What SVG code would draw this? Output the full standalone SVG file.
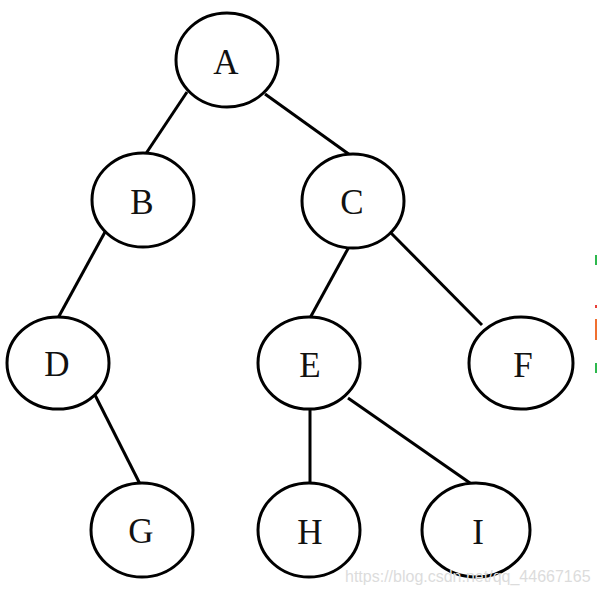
<svg xmlns="http://www.w3.org/2000/svg" width="597" height="594" viewBox="0 0 597 594">
<style>
.n ellipse{fill:#fff;stroke:#000;stroke-width:3}
.n text{font-family:"Liberation Serif","Times New Roman",serif;font-size:35px;fill:#111;text-anchor:middle}
#edges line{stroke:#000;stroke-width:3}
.wm{font-family:"Liberation Sans",Arial,sans-serif;font-size:16px;fill:#dcdcdc}
</style>
<rect width="597" height="594" fill="#fff"/>
<g id="edges">
<line x1="187" y1="92" x2="145" y2="155"/>
<line x1="265" y1="94" x2="350" y2="155"/>
<line x1="105" y1="232" x2="58" y2="318"/>
<line x1="350" y1="245" x2="310" y2="318"/>
<line x1="390" y1="232" x2="482" y2="325"/>
<line x1="95" y1="395" x2="140" y2="484"/>
<line x1="310" y1="410" x2="310" y2="483"/>
<line x1="348" y1="398" x2="470" y2="483"/>
</g>
<g id="A" class="n"><ellipse cx="227" cy="60" rx="51" ry="47"/><text x="226" y="74">A</text></g>
<g id="B" class="n"><ellipse cx="143" cy="200" rx="51" ry="47"/><text x="142" y="214">B</text></g>
<g id="C" class="n"><ellipse cx="353" cy="201" rx="51" ry="47"/><text x="352" y="214">C</text></g>
<g id="D" class="n"><ellipse cx="58" cy="363" rx="51" ry="46"/><text x="57" y="376">D</text></g>
<g id="E" class="n"><ellipse cx="309" cy="363" rx="51" ry="46"/><text x="310" y="377">E</text></g>
<g id="F" class="n"><ellipse cx="521" cy="363" rx="52" ry="46"/><text x="523" y="377">F</text></g>
<g id="G" class="n"><ellipse cx="142" cy="530" rx="51" ry="47"/><text x="141" y="543">G</text></g>
<g id="H" class="n"><ellipse cx="309" cy="530" rx="51" ry="47"/><text x="310" y="544">H</text></g>
<g id="I" class="n"><ellipse cx="476" cy="530" rx="54" ry="47"/><text x="478" y="544">I</text></g>
<text class="wm" x="345" y="582">https://blog.csdn.net/qq_44667165</text>
<rect x="595" y="255" width="2" height="10" fill="#2db84d"/>
<rect x="595" y="305" width="2" height="3" fill="#e8403a"/>
<rect x="595" y="319" width="2" height="21" fill="#f07030"/>
<rect x="595" y="363" width="2" height="10" fill="#2db84d"/>
</svg>
